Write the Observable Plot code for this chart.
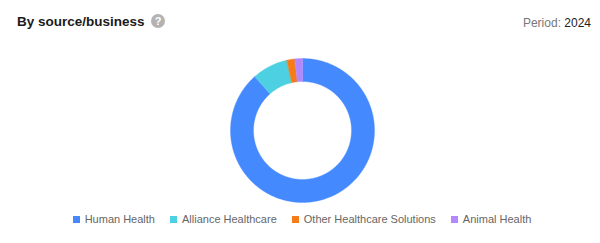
<!DOCTYPE html>
<html>
<head>
<meta charset="utf-8">
<script src="https://cdn.jsdelivr.net/npm/d3@7"></script>
<script src="https://cdn.jsdelivr.net/npm/@observablehq/plot@0.6"></script>
<style>
  html, body { margin: 0; padding: 0; background: #fff; }
  #wrap { position: relative; width: 600px; height: 243px; overflow: hidden; font-family: "Liberation Sans", Arial, sans-serif; }
  #header { position: relative; height: 40px; }
  #title { position: absolute; left: 17px; top: 13px; font-size: 13.5px; font-weight: bold; color: #1a1a1a; line-height: 18px; }
  #help { position: absolute; left: 151px; top: 14px; width: 14px; height: 14px; border-radius: 50%; background: #b3b3b3; color: #fff; font-size: 11px; font-weight: bold; text-align: center; line-height: 14px; }
  #period { position: absolute; right: 9px; top: 15px; font-size: 12px; line-height: 16px; color: #777; }
  #period b { font-weight: normal; color: #222; }
  #chart svg { display: block; }
  #legend { display: flex; justify-content: center; gap: 15px; height: 18px; align-items: center; font-size: 11px; color: #666; margin-left: 4px; }
  .item { display: flex; align-items: center; }
  .sw { width: 7px; height: 7px; margin-right: 5px; }
</style>
</head>
<body>
<div id="wrap">
  <div id="header">
    <div id="title">By source/business</div>
    <div id="help">?</div>
    <div id="period">Period: <b>2024</b></div>
  </div>
  <div id="chart"></div>
  <div id="legend"></div>
</div>
<script>
const categories = ["Human Health", "Alliance Healthcare", "Other Healthcare Solutions", "Animal Health"];
const values = [88.4, 8.0, 1.8, 1.7];
const colors = ["#4589ff", "#4dd0e1", "#f57c18", "#b388ff"];

const innerRatio = 49 / 72;
const total = d3.sum(values);
const pts = [];
let acc = 0;
categories.forEach((name, i) => {
  const a0 = acc / total * 2 * Math.PI;
  acc += values[i];
  const a1 = acc / total * 2 * Math.PI;
  const n = Math.max(4, Math.ceil((a1 - a0) / 0.01));
  for (let k = 0; k <= n; k++) {
    const a = a0 + (a1 - a0) * k / n;
    pts.push({name, x: Math.sin(a), y: Math.cos(a)});
  }
  for (let k = n; k >= 0; k--) {
    const a = a0 + (a1 - a0) * k / n;
    pts.push({name, x: innerRatio * Math.sin(a), y: innerRatio * Math.cos(a)});
  }
});

const cx = 302, cy = 90, R = 72;
const plot = Plot.plot({
  width: 600,
  height: 170,
  margin: 0,
  x: {domain: [-1, 1], range: [cx - R, cx + R], axis: null},
  y: {domain: [-1, 1], range: [cy + R, cy - R], axis: null},
  color: {domain: categories, range: colors},
  marks: [
    Plot.line(pts, {x: "x", y: "y", z: "name", fill: "name", stroke: "name", strokeWidth: 0.4, curve: "linear-closed"})
  ]
});
document.getElementById("chart").appendChild(plot);

const legend = document.getElementById("legend");
categories.forEach((name, i) => {
  const it = document.createElement("div");
  it.className = "item";
  const sw = document.createElement("div");
  sw.className = "sw";
  sw.style.background = colors[i];
  const t = document.createElement("span");
  t.textContent = name;
  it.appendChild(sw);
  it.appendChild(t);
  legend.appendChild(it);
});
</script>
</body>
</html>
